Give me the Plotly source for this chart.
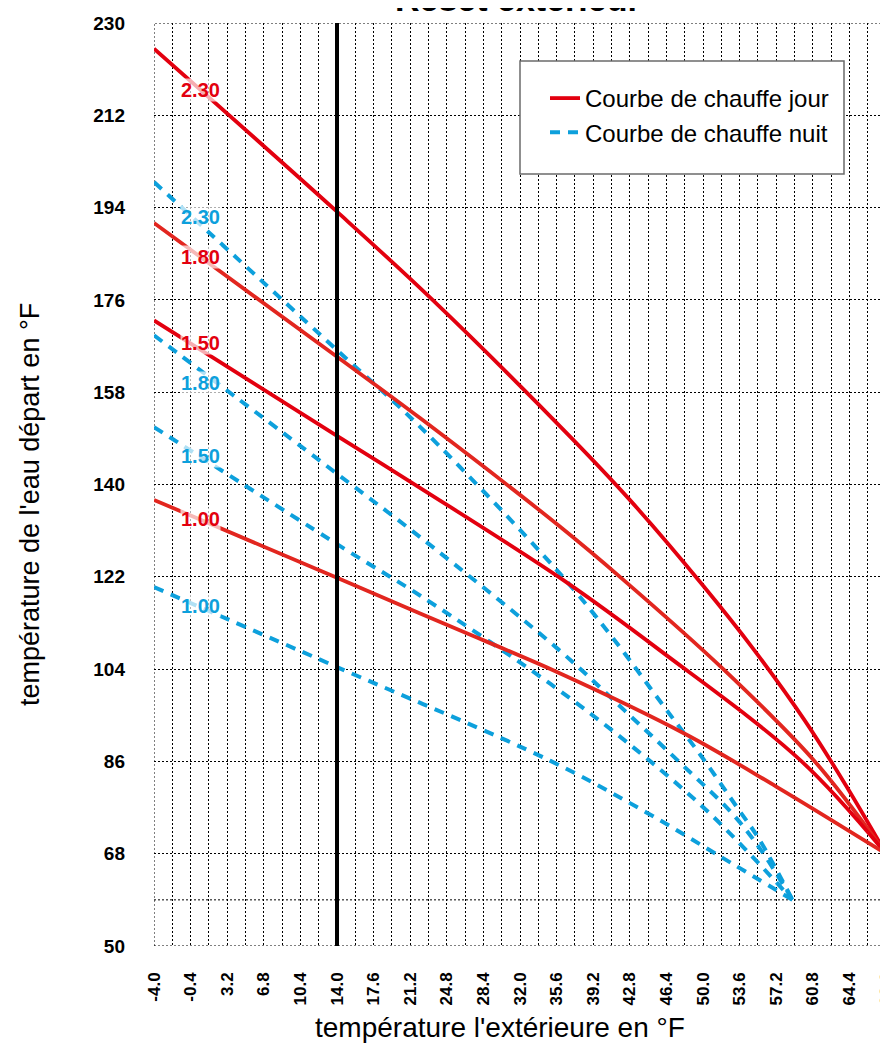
import plotly.graph_objects as go

# ---------------- data ----------------
x_ticks = [-4.0, -0.4, 3.2, 6.8, 10.4, 14.0, 17.6, 21.2, 24.8, 28.4, 32.0,
           35.6, 39.2, 42.8, 46.4, 50.0, 53.6, 57.2, 60.8, 64.4, 68.0]
x_tick_labels = ["-4.0", "-0.4", "3.2", "6.8", "10.4", "14.0", "17.6", "21.2",
                 "24.8", "28.4", "32.0", "35.6", "39.2", "42.8", "46.4", "50.0",
                 "53.6", "57.2", "60.8", "64.4", "68.0"]
y_ticks = [50, 68, 86, 104, 122, 140, 158, 176, 194, 212, 230]
y_tick_labels = ["50", "68", "86", "104", "122", "140", "158", "176", "194", "212", "230"]
extra_y_grid = [59]
design_temp = 14.0

slopes = ["2.30", "1.80", "1.50", "1.00"]

# day curves (Courbe de chauffe jour)
day_230_x = [-4, 14, 23.4, 37.0, 42.8, 50.0, 55.0, 60.0, 64.0, 68]
day_230_y = [225.0, 193.2, 176.0, 149.2, 137.0, 120.3, 107.8, 94.0, 81.5, 68]
day_180_x = [-4, 14, 22.2, 35.8, 42.0, 52.1, 61.0, 68]
day_180_y = [191.0, 164.9, 152.9, 132.0, 121.7, 103.8, 86.0, 68]
day_150_x = [-4, 14, 22.2, 36.3, 45.8, 59.7, 68]
day_150_y = [172.0, 149.5, 139.3, 121.3, 107.6, 86.0, 68]
day_100_x = [-4, 14, 25.2, 35.8, 48.3, 57.2, 68]
day_100_y = [137.0, 121.8, 112.3, 103.3, 91.3, 81.1, 68]

# night curves (Courbe de chauffe nuit)
night_230_x = [-4, 14, 22.2, 35.8, 41.0, 46.2, 49.8, 53.4, 55.5, 58.8]
night_230_y = [199.0, 166.2, 151.2, 122.9, 110.4, 96.6, 87.1, 76.9, 70.9, 59]
night_180_x = [-4, 14, 22.2, 35.8, 42.3, 48.3, 52.8, 55.6, 58.8]
night_180_y = [169.1, 142.1, 129.7, 107.8, 95.9, 84.7, 76.0, 69.0, 59]
night_150_x = [-4, 14.7, 22.2, 35.0, 43.6, 50.8, 58.8]
night_150_y = [151.2, 127.5, 118.3, 101.1, 88.0, 75.6, 59]
night_100_x = [-4, 14, 35.0, 44.3, 51.5, 58.8]
night_100_y = [120.0, 104.4, 86.1, 76.2, 67.7, 59]

label_x = 0.6
label_y_day = [216.9, 184.3, 167.5, 133.3]
label_y_night = [192.2, 159.7, 145.6, 116.4]

# ---------------- styles / layout ----------------
FONT = "Liberation Sans, Arial, sans-serif"
RED_A = "#E3000F"
RED_B = "#E2261F"
BLUE = "#0DA0DC"
GRID_DASH = "2px,2px"

OFF = 8  # page body margin (screen px)
W, H = 888 - OFF, 1043 - OFF
ML, MR, MT, MB = 146, 2, 15, 97
pw = W - ML - MR
ph = H - MT - MB


def px(sx):
    """screen x -> paper x"""
    return (sx - OFF - ML) / pw


def py(sy):
    """screen y -> paper y"""
    return 1 - (sy - OFF - MT) / ph


fig = go.Figure()

day_series = [(day_230_x, day_230_y, RED_A), (day_180_x, day_180_y, RED_B),
              (day_150_x, day_150_y, RED_A), (day_100_x, day_100_y, RED_B)]
night_series = [(night_230_x, night_230_y), (night_180_x, night_180_y),
                (night_150_x, night_150_y), (night_100_x, night_100_y)]

for i, (xs, ys) in enumerate(night_series):
    fig.add_trace(go.Scatter(
        x=xs, y=ys, mode="lines", name="Courbe de chauffe nuit",
        legendgroup="nuit", showlegend=(i == 0), legendrank=2,
        line=dict(color=BLUE, width=4, dash="10px,8px", shape="spline", smoothing=1.0),
        hoverinfo="skip"))

for i, (xs, ys, col) in enumerate(day_series):
    fig.add_trace(go.Scatter(
        x=xs, y=ys, mode="lines", name="Courbe de chauffe jour",
        legendgroup="jour", showlegend=(i == 0), legendrank=1,
        line=dict(color=col, width=3.8, shape="spline", smoothing=1.0),
        hoverinfo="skip"))

# design temperature line
fig.add_trace(go.Scatter(x=[design_temp, design_temp], y=[y_ticks[0], y_ticks[-1]],
                         mode="lines", line=dict(color="black", width=4),
                         showlegend=False, hoverinfo="skip"))

annotations = []
for s, yd, yn in zip(slopes, label_y_day, label_y_night):
    annotations.append(dict(x=label_x, y=yd, xref="x", yref="y", text="<b>%s</b>" % s,
                            showarrow=False, font=dict(family=FONT, size=20, color=RED_A),
                            bgcolor="rgba(255,255,255,0.68)", borderpad=0))
    annotations.append(dict(x=label_x, y=yn, xref="x", yref="y", text="<b>%s</b>" % s,
                            showarrow=False, font=dict(family=FONT, size=20, color=BLUE),
                            bgcolor="rgba(255,255,255,0.68)", borderpad=0))

# title (partially cut at top in the reference)
annotations.append(dict(x=px(518), y=py(20), xref="paper", yref="paper", xanchor="center",
                        yanchor="bottom", text="<b>Reset extérieur</b>", showarrow=False,
                        font=dict(family=FONT, size=34, color="black")))
# axis titles
annotations.append(dict(x=px(500), y=py(1028), xref="paper", yref="paper",
                        xanchor="center", yanchor="middle",
                        showarrow=False, text="température l'extérieure en °F",
                        font=dict(family=FONT, size=28, color="black")))
annotations.append(dict(x=px(30), y=py(505), xref="paper", yref="paper",
                        xanchor="center", yanchor="middle",
                        showarrow=False, textangle=-90,
                        text="température de l'eau départ en °F",
                        font=dict(family=FONT, size=27, color="black")))

shapes = []
for yv in extra_y_grid:
    shapes.append(dict(type="line", xref="x", yref="y", x0=x_ticks[0], x1=x_ticks[-1],
                       y0=yv, y1=yv, layer="below",
                       line=dict(color="black", width=1, dash=GRID_DASH)))
shapes.append(dict(type="rect", xref="x", yref="y", x0=x_ticks[0], x1=x_ticks[-1],
                   y0=y_ticks[0], y1=y_ticks[-1], layer="below",
                   line=dict(color="black", width=1, dash=GRID_DASH)))
# legend box
shapes.append(dict(type="rect", xref="paper", yref="paper",
                   x0=px(520), x1=px(844), y0=py(174), y1=py(61),
                   layer="above", fillcolor="white",
                   line=dict(color="#6b6b6b", width=1.5)))

fig.update_layout(
    width=W, height=H,
    margin=dict(l=ML, r=MR, t=MT, b=MB, autoexpand=False),
    paper_bgcolor="white", plot_bgcolor="white",
    showlegend=True,
    legend=dict(x=px(545), y=py(76), xanchor="left", yanchor="top",
                bgcolor="rgba(0,0,0,0)", borderwidth=0,
                font=dict(family=FONT, size=24, color="black"),
                traceorder="normal"),
    annotations=annotations,
    shapes=shapes,
    xaxis=dict(range=[x_ticks[0], x_ticks[-1]], tickmode="array", tickvals=x_ticks,
               ticktext=x_tick_labels, tickangle=-90, ticks="", ticklabelstandoff=22,
               automargin=False, ticklabeloverflow="allow",
               tickfont=dict(family=FONT, size=17, color="black", weight="bold"),
               showgrid=True, gridcolor="black", gridwidth=1, griddash=GRID_DASH,
               zeroline=False, showline=False,
               minor=dict(tickmode="linear", tick0=x_ticks[0], dtick=1.8, showgrid=True,
                          gridcolor="black", gridwidth=1, griddash=GRID_DASH, ticks="")),
    yaxis=dict(range=[y_ticks[0], y_ticks[-1]], tickmode="array", tickvals=y_ticks,
               ticktext=y_tick_labels, ticks="", ticklabelstandoff=28, automargin=False,
               tickfont=dict(family=FONT, size=19, color="black", weight="bold"),
               showgrid=True, gridcolor="black", gridwidth=1, griddash=GRID_DASH,
               zeroline=False, showline=False),
)

fig.write_html("out.html")
